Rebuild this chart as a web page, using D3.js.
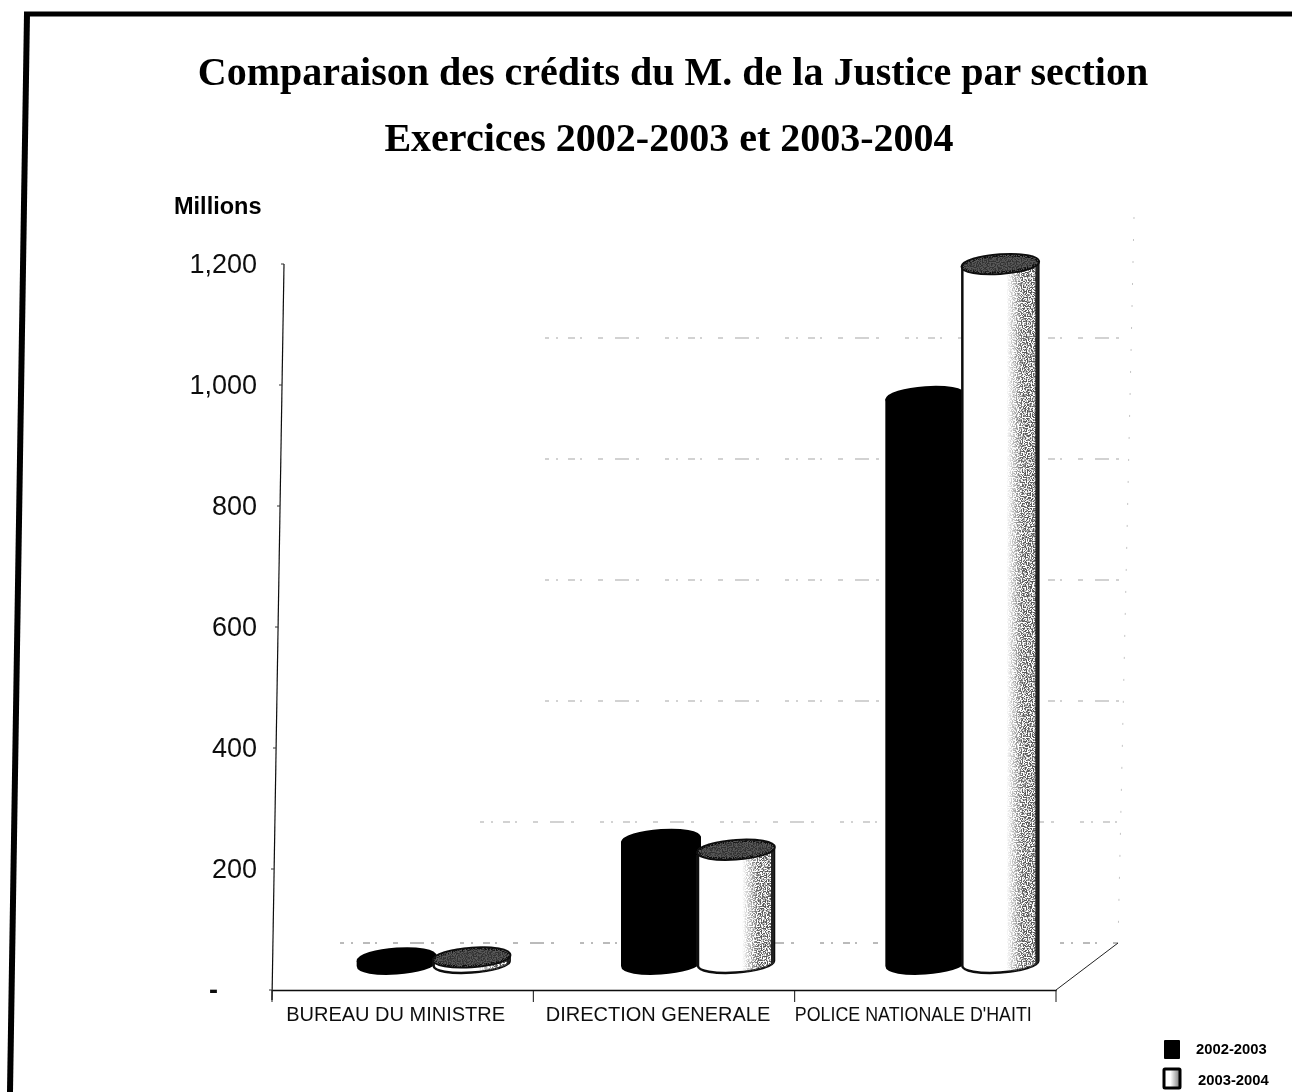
<!DOCTYPE html>
<html><head><meta charset="utf-8">
<script src="https://cdn.jsdelivr.net/npm/d3@7"></script>
<style>html,body{margin:0;padding:0;background:#fff}svg{display:block}</style>
</head><body><svg id="c" width="1292" height="1092"></svg>
<script>
const categories = ["BUREAU DU MINISTRE","DIRECTION GENERALE","POLICE NATIONALE D'HAITI"];
const series = ["2002-2003","2003-2004"];
const values2002 = [8,204,936];
const values2003 = [10,188,1156];
const yTicks = [0,200,400,600,800,1000,1200];
const gridTicks = [0,200,400,600,800,1000];
const titleLines = ["Comparaison des crédits du M. de la Justice par section","Exercices 2002-2003 et 2003-2004"];

const svg = d3.select("#c");
const defs = svg.append("defs");
const soft = defs.append("filter").attr("id","soft").attr("filterUnits","userSpaceOnUse").attr("x",0).attr("y",0).attr("width",1292).attr("height",1092);
soft.append("feGaussianBlur").attr("stdDeviation",0.45);
const root = svg.append("g").attr("filter","url(#soft)");

const y = d3.scaleLinear().domain([0,1200]).range([990,264]);
const x = d3.scaleBand().domain(categories).range([272,1056]);
const xBars = d3.scaleBand().domain(categories).range([302,1095]);
const wallX = d3.scaleLinear().domain([0,1200]).range([1118,1134]);
const depth = 47, midDepth = 24;

const nf = defs.append("filter").attr("id","noise").attr("x",0).attr("y",0).attr("width","100%").attr("height","100%");
nf.append("feTurbulence").attr("type","fractalNoise").attr("baseFrequency",0.8).attr("numOctaves",1).attr("seed",4);
nf.append("feColorMatrix").attr("values","0 0 0 0 0.1  0 0 0 0 0.1  0 0 0 0 0.1  7 0 0 0 -3.0");
const g = defs.append("linearGradient").attr("id","fade");
g.append("stop").attr("offset","0.58").attr("stop-color","#000");
g.append("stop").attr("offset","0.80").attr("stop-color","#fff");
const m = defs.append("mask").attr("id","fadeMask").attr("maskContentUnits","objectBoundingBox");
m.append("rect").attr("width",1).attr("height",1).attr("fill","url(#fade)");
const lgGrad = defs.append("linearGradient").attr("id","legendFade");
lgGrad.append("stop").attr("offset","0.4").attr("stop-color","#fff");
lgGrad.append("stop").attr("offset","1").attr("stop-color","#777");

// frame
root.append("path").attr("d","M10,1092L27,14").attr("fill","none").attr("stroke","#000").attr("stroke-width",6);
root.append("path").attr("d","M24,14L1292,14").attr("fill","none").attr("stroke","#000").attr("stroke-width",5);

// titles
root.selectAll("text.t").data(titleLines).join("text").attr("class","t")
  .attr("x",(d,i)=>[673,669][i]).attr("y",(d,i)=>[85,151][i]).attr("text-anchor","middle")
  .attr("font-family","Liberation Serif").attr("font-weight","bold").attr("font-size",40).attr("fill","#000").text(d=>d);
root.append("text").attr("x",174).attr("y",214).attr("font-family","Liberation Sans").attr("font-weight","bold").attr("font-size",23.5).attr("fill","#000").text("Millions");

// gridlines at the back wall
const dash = "4 7 2 10 7 5 2 16 5 12 14 7 3 26";
root.append("g").selectAll("line").data(gridTicks).join("line")
  .attr("x1",d=>d===0?340:d===200?480:545).attr("x2",d=>wallX(d))
  .attr("y1",d=>y(d)-depth).attr("y2",d=>y(d)-depth)
  .attr("stroke",d=>d===0?"#777":"#a5a5a5").attr("stroke-width",1).attr("stroke-dasharray",dash);
// back wall right edge + floor
root.append("line").attr("x1",wallX(1200)).attr("x2",wallX(0)).attr("y1",y(1200)-depth).attr("y2",y(0)-depth)
  .attr("stroke","#c4c4c4").attr("stroke-dasharray","2 20");
root.append("line").attr("x1",x.range()[1]).attr("y1",y(0)).attr("x2",wallX(0)).attr("y2",y(0)-depth).attr("stroke","#222");

// axes
const axisX = d3.scaleLinear().domain([0,1200]).range([272,284]);
root.append("line").attr("x1",axisX(0)).attr("x2",axisX(1200)).attr("y1",y(0)+10).attr("y2",y(1200)).attr("stroke","#111").attr("stroke-width",1.2);
root.append("g").selectAll("line").data(yTicks).join("line")
  .attr("x1",d=>axisX(d)-3).attr("x2",d=>axisX(d)).attr("y1",d=>y(d)).attr("y2",d=>y(d)).attr("stroke","#333");
root.append("g").selectAll("text").data(yTicks).join("text")
  .attr("x",d=>d===0?218:257).attr("y",d=>y(d)+9).attr("text-anchor","end")
  .attr("font-family","Liberation Sans").attr("font-size",27).attr("font-weight",d=>d===0?"bold":"normal").attr("fill","#111")
  .text(d=>d===0?"-":d3.format(",")(d));
const xa = d3.axisBottom(x).tickSize(0).tickPadding(17);
const xg = root.append("g").attr("transform",`translate(0,${y(0)})`).call(xa);
xg.select(".domain").attr("stroke","#111").attr("stroke-width",1.4);
const labelDx = [-7,-6,-12];
xg.selectAll("text").attr("font-family","Liberation Sans").attr("font-size",20).attr("fill","#111").attr("dy","0.71em")
  .attr("dx",(d,i)=>labelDx[i])
  .attr("textLength",(d,i)=>i===2?237:null).attr("lengthAdjust","spacingAndGlyphs");
xg.selectAll(".extra").data([...categories.map(c=>x(c)),x.range()[1]]).join("line").attr("class","extra")
  .attr("x1",d=>d).attr("x2",d=>d).attr("y1",0).attr("y2",12).attr("stroke","#111");

// bars
const barW = 76, rx = barW/2, ry = 9, tilt = -4;
const rows = categories.flatMap((c,i)=>[
  {c,s:0,v:values2002[i]},{c,s:1,v:values2003[i]}
]);
const cx = d => xBars(d.c)+xBars.bandwidth()/2 + (d.s===0?-37.5:37.5);
rows.forEach((d,i)=>{
  const c = cx(d), b = y(0)-midDepth, t = y(d.v)-midDepth;
  const p = `M${c-rx},${t}L${c-rx},${b}A${rx},${ry} ${tilt} 0 0 ${c+rx},${b-5}L${c+rx},${t-5}Z`;
  const top = `M${c-rx},${t}A${rx},${ry} ${tilt} 1 1 ${c+rx},${t-5}A${rx},${ry} ${tilt} 1 1 ${c-rx},${t}Z`;
  const G = root.append("g");
  if(d.s===0){
    G.append("path").attr("d",p).attr("fill","#050505").attr("stroke","#050505").attr("stroke-linejoin","round").attr("stroke-width",4);
    G.append("path").attr("d",top).attr("fill","#050505").attr("stroke","#050505").attr("stroke-width",4);
  } else {
    const id = "clip"+i;
    defs.append("clipPath").attr("id",id).append("path").attr("d",p);
    defs.append("clipPath").attr("id",id+"t").append("path").attr("d",top);
    G.append("path").attr("d",p).attr("fill","#fff").attr("stroke","#111").attr("stroke-width",2.5);
    const body = G.append("g").attr("clip-path",`url(#${id})`);
    const hh = y(0)-y(d.v)+40;
    const mg = body.append("g").attr("mask","url(#fadeMask)");
    mg.append("rect").attr("x",c-rx).attr("y",t-20).attr("width",barW).attr("height",hh).attr("fill","#fff").attr("filter","url(#noise)");
    body.append("rect").attr("x",c+rx-3).attr("y",t-20).attr("width",3).attr("height",hh).attr("fill","#222");
    G.append("path").attr("d",top).attr("fill","#333").attr("stroke","#0a0a0a").attr("stroke-width",3.5);
    G.append("g").attr("clip-path",`url(#${id}t)`).append("rect")
      .attr("x",c-rx).attr("y",t-ry-8).attr("width",barW).attr("height",2*ry+10).attr("fill","#fff").attr("filter","url(#noise)");
  }
});

// legend
const lg = root.append("g").selectAll("g").data(series).join("g").attr("transform",(d,i)=>`translate(1164,${1040+i*29})`);
lg.append("rect").attr("width",16).attr("height",19).attr("rx",1)
  .attr("fill",(d,i)=>i?"url(#legendFade)":"#000").attr("stroke","#000").attr("stroke-width",(d,i)=>i?3:0);
lg.append("text").attr("x",(d,i)=>i?34:32).attr("y",(d,i)=>i?16:14).attr("font-family","Liberation Sans").attr("font-weight","bold").attr("font-size",14.8).attr("fill","#000").text(d=>d);
</script></body></html>
